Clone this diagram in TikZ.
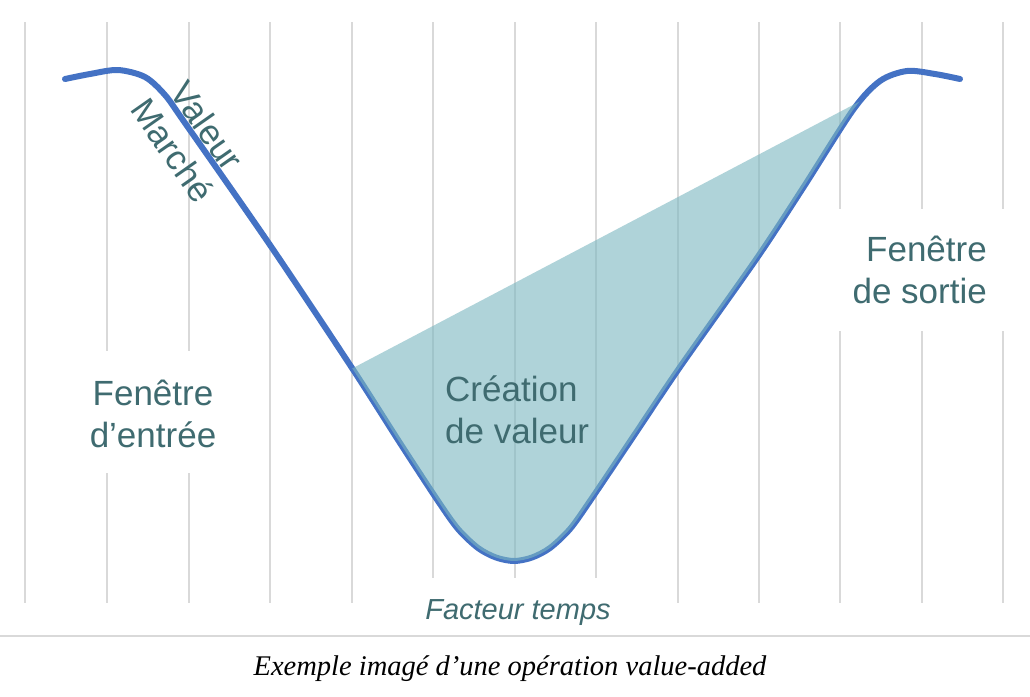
\documentclass[tikz,border=0pt]{standalone}
\usepackage{fontspec}
\newfontfamily\labfont{Liberation Sans}
\newfontfamily\capfont{Liberation Serif}
\definecolor{gridc}{HTML}{D9D9D9}
\definecolor{curvec}{HTML}{4472C4}
\definecolor{fillc}{RGB}{123,183,192}
\definecolor{labc}{HTML}{3F6B70}
\begin{document}
\begin{tikzpicture}[x=1pt,y=-1pt,
  gridline/.style={draw=gridc,line width=1.6pt},
  curveline/.style={draw=curvec,line width=6pt,line cap=round,line join=round},
  lab/.style={text=labc,font=\labfont\fontsize{35}{42}\selectfont,inner sep=0pt}]
\useasboundingbox (0,0) rectangle (1030,696);
\fill[white] (0,0) rectangle (1030,696);
% grid
\foreach \x in {25,270,352,678,759} \draw[gridline] (\x,22) -- (\x,603);
\foreach \x in {433,515,596} \draw[gridline] (\x,22) -- (\x,578);
\foreach \x in {107,189} {\draw[gridline] (\x,22) -- (\x,351); \draw[gridline] (\x,473) -- (\x,603);}
\foreach \x in {840,922,1003} {\draw[gridline] (\x,22) -- (\x,209); \draw[gridline] (\x,331) -- (\x,603);}
% curve
\draw[curveline] plot[smooth,tension=0.5] coordinates {(65,79) (90,74) (118,70) (145,77) (165,95) (185,123) (270,245) (352,368) (400,443) (438,501) (458,529) (478,548) (496,557.5) (514,561) (532,557.5) (550,548) (570,529) (590,501) (633,437) (680,367) (757,258) (803,188) (853,110) (880,81) (907,71) (935,74) (960,79)};
% value creation area
\begin{scope}
\clip (343,373.3) -- (863,99.7) -- (863,700) -- (343,700) -- cycle;
\fill[fillc,opacity=0.6] plot[smooth,tension=0.5] coordinates {(65,79) (90,74) (118,70) (145,77) (165,95) (185,123) (270,245) (352,368) (400,443) (438,501) (458,529) (478,548) (496,557.5) (514,561) (532,557.5) (550,548) (570,529) (590,501) (633,437) (680,367) (757,258) (803,188) (853,110) (880,81) (907,71) (935,74) (960,79)} -- (960,0) -- (65,0) -- cycle;
\end{scope}
% labels
\node[lab,align=center,anchor=base] (entree) at (153,447) {Fenêtre\\d’entrée};
\node[lab,align=right,anchor=base east] (sortie) at (987,303) {Fenêtre\\de sortie};
\node[lab,align=left,anchor=base west] (creation) at (445,443) {Création\\de valeur};
\node[lab,align=center,rotate=-55] (valeur) at (190,138) {Valeur\\Marché};
\node[text=labc,inner sep=0pt,anchor=base,font=\labfont\itshape\fontsize{29}{34}\selectfont] (temps) at (518,619) {Facteur temps};
\draw[gridc,line width=2pt] (0,636) -- (1030,636);
\node[inner sep=0pt,anchor=base,font=\capfont\itshape\fontsize{28.5}{33}\selectfont] (caption) at (510,675) {Exemple imagé d’une opération value-added};
\end{tikzpicture}
\end{document}
